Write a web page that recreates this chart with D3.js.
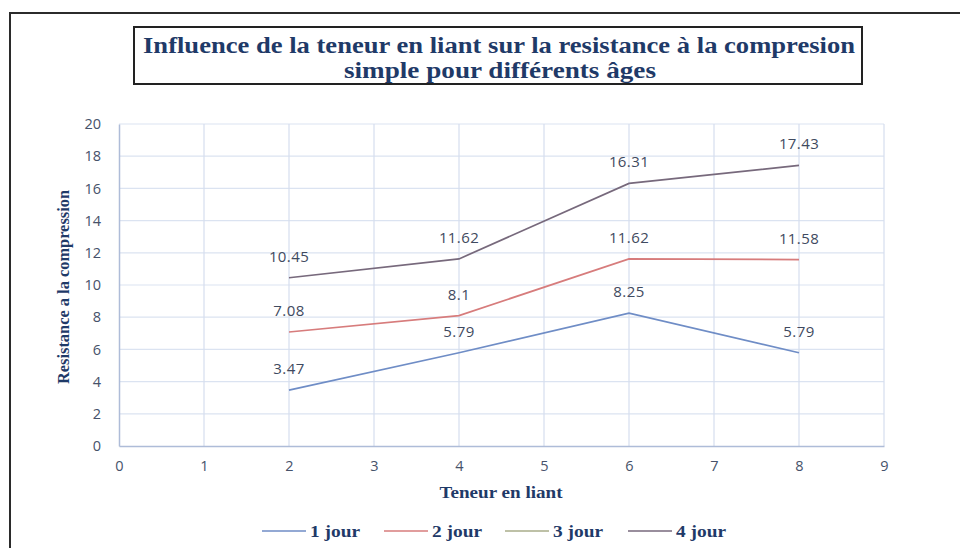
<!DOCTYPE html>
<html>
<head>
<meta charset="utf-8">
<script src="https://cdn.jsdelivr.net/npm/d3@7"></script>
<style>
  body { margin: 0; background: #fff; }
  svg { display: block; }
</style>
</head>
<body>
<svg id="chart" width="960" height="548"></svg>
<script>
const titleLines = ["Influence de la teneur en liant sur la resistance à la compresion", "simple pour différents âges"];
const xLabel = "Teneur en liant";
const yLabel = "Resistance a la compression";
const xValues = [2, 4, 6, 8];
const seriesNames = ["1 jour", "2 jour", "3 jour", "4 jour"];
const jour1 = [3.47, 5.79, 8.25, 5.79];
const jour2 = [7.08, 8.1, 11.62, 11.58];
const jour3 = [];
const jour4 = [10.45, 11.62, 16.31, 17.43];
const xTicks = [0, 1, 2, 3, 4, 5, 6, 7, 8, 9];
const yTicks = [0, 2, 4, 6, 8, 10, 12, 14, 16, 18, 20];
const colors = ["#6f8dc6", "#d77c7c", "#a8ad8a", "#77697c"];

const svg = d3.select("#chart");
const navy = "#1f3a68";
const serif = "'Liberation Serif', 'DejaVu Serif', serif";
const sans = "'Open Sans', 'Liberation Sans', sans-serif";

// outer frame
svg.append("path").attr("d", "M10,548 L10,13 L960,13")
  .attr("fill", "none").attr("stroke", "#2b2b2b").attr("stroke-width", 2);

// title box
svg.append("rect").attr("x", 134).attr("y", 27).attr("width", 728).attr("height", 57)
  .attr("fill", "#fff").attr("stroke", "#222").attr("stroke-width", 2);
svg.append("text").attr("x", 499).attr("y", 53).attr("text-anchor", "middle")
  .attr("font-family", serif).attr("font-weight", "bold").attr("font-size", 23)
  .attr("fill", navy).attr("textLength", 712).attr("lengthAdjust", "spacingAndGlyphs")
  .text(titleLines[0]);
svg.append("text").attr("x", 500).attr("y", 78).attr("text-anchor", "middle")
  .attr("font-family", serif).attr("font-weight", "bold").attr("font-size", 23)
  .attr("fill", navy).attr("textLength", 312).attr("lengthAdjust", "spacingAndGlyphs")
  .text(titleLines[1]);

const x = d3.scaleLinear().domain([0, 9]).range([119, 884]);
const y = d3.scaleLinear().domain([0, 20]).range([446, 124]);

// gridlines
svg.append("g").selectAll("line").data(yTicks.filter(d => d > 0)).join("line")
  .attr("x1", x(0)).attr("x2", x(9)).attr("y1", d => y(d)).attr("y2", d => y(d))
  .attr("stroke", "#dbe3f1").attr("stroke-width", 1.2);
svg.append("g").selectAll("line").data(xTicks.filter(d => d > 0)).join("line")
  .attr("y1", y(0)).attr("y2", y(20)).attr("x1", d => x(d)).attr("x2", d => x(d))
  .attr("stroke", "#d6deee").attr("stroke-width", 1.2);

// axes
const xAxis = d3.axisBottom(x).tickValues(xTicks).tickSize(0).tickPadding(15);
const yAxis = d3.axisLeft(y).tickValues(yTicks).tickSize(0).tickPadding(18);
const gx = svg.append("g").attr("transform", `translate(0,${y(0)})`).call(xAxis);
const gy = svg.append("g").attr("transform", `translate(${x(0)},0)`).call(yAxis);
[gx, gy].forEach(g => {
  g.select(".domain").attr("stroke", "#aebcd8").attr("stroke-width", 1.5);
  g.selectAll("text").attr("font-family", sans).attr("font-size", 14.5).attr("fill", "#46526a");
});

// axis titles
svg.append("text").attr("x", 501).attr("y", 498).attr("text-anchor", "middle")
  .attr("font-family", serif).attr("font-weight", "bold").attr("font-size", 17)
  .attr("fill", navy).attr("textLength", 123).attr("lengthAdjust", "spacingAndGlyphs")
  .text(xLabel);
svg.append("text").attr("transform", "translate(69,287) rotate(-90)").attr("text-anchor", "middle")
  .attr("font-family", serif).attr("font-weight", "bold").attr("font-size", 16)
  .attr("fill", navy).attr("textLength", 194).attr("lengthAdjust", "spacingAndGlyphs")
  .text(yLabel);

// lines
const allSeries = [jour1, jour2, jour3, jour4];
const line = d3.line().x((d, i) => x(xValues[i])).y(d => y(d));
allSeries.forEach((s, k) => {
  if (!s.length) return;
  svg.append("path").datum(s).attr("d", line).attr("fill", "none")
    .attr("stroke", colors[k]).attr("stroke-width", 1.7);
  svg.append("g").selectAll("text").data(s).join("text")
    .attr("x", (d, i) => x(xValues[i])).attr("y", d => y(d) - 16)
    .attr("text-anchor", "middle").attr("font-family", sans).attr("font-size", 15)
    .attr("letter-spacing", 0.4).attr("fill", "#3f4a60").text(d => d);
});

// legend
const legendX = [262, 384, 505, 628];
const lg = svg.append("g");
seriesNames.forEach((n, k) => {
  lg.append("line").attr("x1", legendX[k]).attr("x2", legendX[k] + 44)
    .attr("y1", 531).attr("y2", 531).attr("stroke", colors[k]).attr("stroke-width", 1.7);
  lg.append("text").attr("x", legendX[k] + 48).attr("y", 537)
    .attr("font-family", serif).attr("font-weight", "bold").attr("font-size", 17)
    .attr("fill", navy).attr("textLength", 50).attr("lengthAdjust", "spacingAndGlyphs").text(n);
});
</script>
</body>
</html>
